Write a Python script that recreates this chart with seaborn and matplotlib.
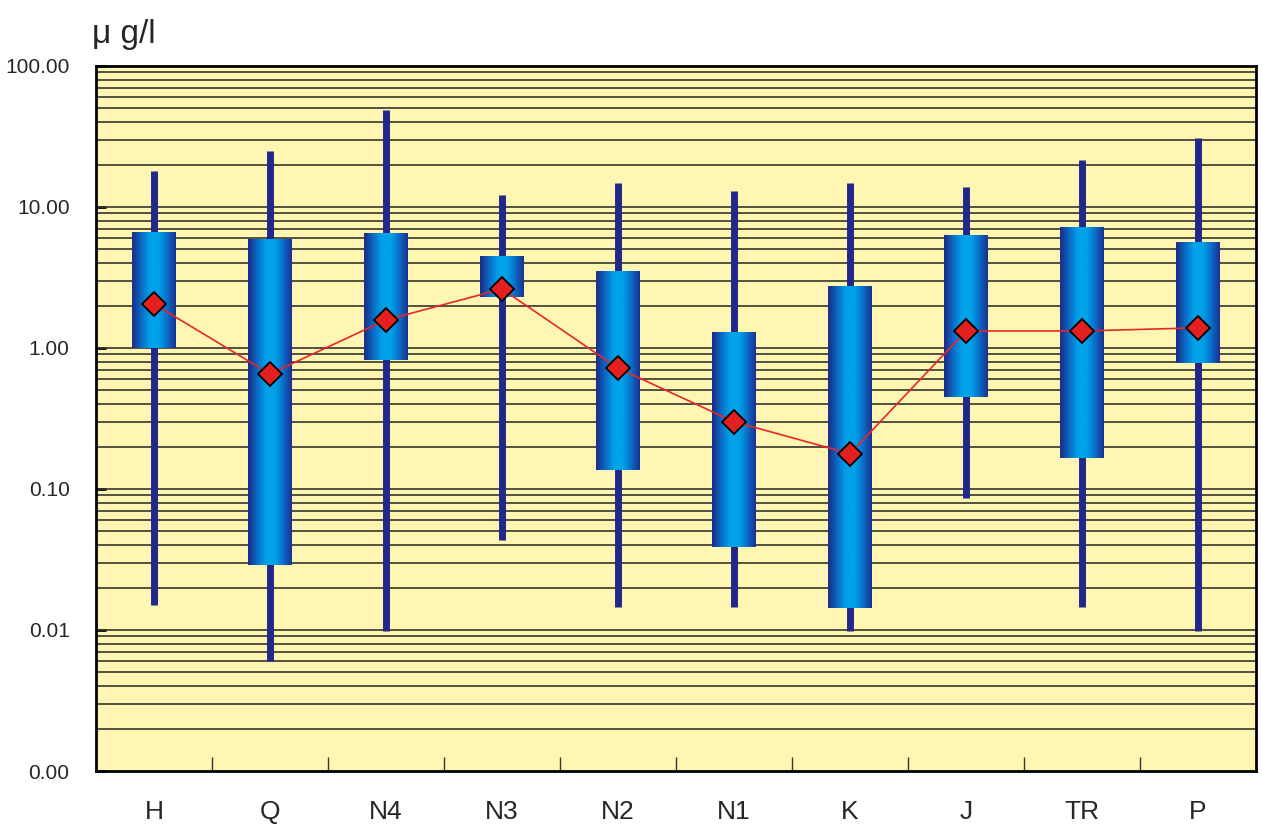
import numpy as np
import pandas as pd
import seaborn as sns
import matplotlib.pyplot as plt
from matplotlib.colors import LinearSegmentedColormap

sites = ['H', 'Q', 'N4', 'N3', 'N2', 'N1', 'K', 'J', 'TR', 'P']
whisker_low = [0.015, 0.006, 0.0098, 0.0435, 0.0145, 0.0145, 0.0098, 0.086, 0.0145, 0.0098]
box_low = [1.0, 0.029, 0.82, 2.3, 0.136, 0.039, 0.0143, 0.45, 0.166, 0.78]
box_high = [6.65, 6.0, 6.6, 4.55, 3.55, 1.32, 2.75, 6.35, 7.3, 5.65]
whisker_high = [18.0, 25.0, 49.0, 12.2, 14.8, 13.0, 14.8, 13.9, 21.5, 31.0]
means = [2.05, 0.655, 1.58, 2.62, 0.72, 0.30, 0.178, 1.32, 1.32, 1.39]

df = pd.DataFrame({'site': sites, 'pos': np.arange(len(sites)), 'mean': means})

sns.set_style('ticks')
plt.rcParams['font.family'] = ['Liberation Sans', 'DejaVu Sans']

fig = plt.figure(figsize=(12.62, 8.31), dpi=100)
ax = fig.add_axes([0.076, 0.0722, 0.9193, 0.8484])
ax.set_facecolor('#FFF6B4')
ax.set_yscale('log')
ax.set_ylim(0.001, 100)
ax.set_xlim(-0.5, len(sites) - 0.5)

# horizontal grid on every log step
for dec in [0.001, 0.01, 0.1, 1, 10]:
    for k in range(1, 10):
        if dec * k > 0.001:
            ax.axhline(dec * k, color='#35352b', lw=1.2, zorder=1)

grad = LinearSegmentedColormap.from_list(
    'box', ['#1B2F8A', '#0A6CC8', '#00A2E8', '#00A2E8', '#0A6CC8', '#1B2F8A'])
gvals = np.linspace(0, 1, 64).reshape(1, -1)
half = 0.19
for i in range(len(sites)):
    ax.vlines(i, whisker_low[i], whisker_high[i], color='#22288A', lw=5, zorder=2)
    ax.imshow(gvals, cmap=grad, aspect='auto', interpolation='bilinear',
              extent=(i - half, i + half, box_low[i], box_high[i]), zorder=3)

sns.lineplot(data=df, x='pos', y='mean', color='#E8262A', lw=1.2, marker='D',
             markersize=12, markerfacecolor='#E3201F', markeredgecolor='black',
             markeredgewidth=1.3, ax=ax, zorder=5)

ax.set_xlim(-0.5, len(sites) - 0.5)
ax.set_ylim(0.001, 100)
ax.set_aspect('auto')

ax.set_yticks([0.001, 0.01, 0.1, 1, 10, 100])
ax.set_yticklabels(['0.00', '0.01', '0.10', '1.00', '10.00', '100.00'], fontsize=15)
ax.yaxis.set_minor_locator(plt.NullLocator())
ax.tick_params(axis='y', direction='in', length=7, width=2, pad=19, color='black')

ax.set_xticks(np.arange(len(sites)))
ax.set_xticklabels(sites, fontsize=19)
ax.set_xticks(np.arange(len(sites) - 1) + 0.5, minor=True)
ax.tick_params(axis='x', which='major', length=0, pad=21)
ax.tick_params(axis='x', which='minor', direction='in', length=10, width=1, color='#333333')

ax.set_xlabel('')
ax.set_ylabel('')
for s in ax.spines.values():
    s.set_linewidth(2)
    s.set_color('black')
    s.set_zorder(6)

fig.text(0.073, 0.958, 'μ g/l', fontsize=24, ha='left', va='center')

fig.savefig('out.png', dpi=100)
